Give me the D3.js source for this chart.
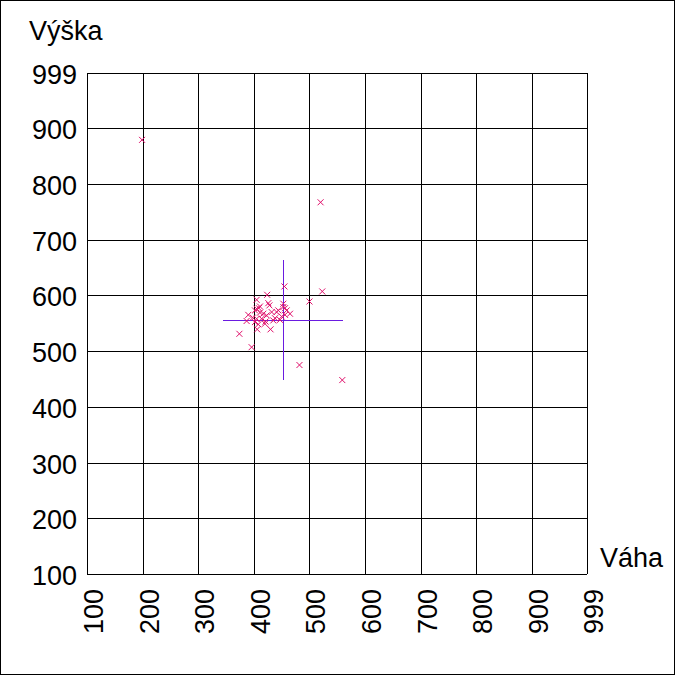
<!DOCTYPE html>
<html><head><meta charset="utf-8">
<script src="https://cdn.jsdelivr.net/npm/d3@7"></script>
<style>html,body{margin:0;padding:0;background:#fff}svg{display:block}text{font-family:"Liberation Sans",Arial,sans-serif}</style>
</head><body>
<svg id="c" width="676" height="676"></svg>
<script>
const xTicks = [100,200,300,400,500,600,700,800,900,999];
const yTicks = [100,200,300,400,500,600,700,800,900,999];
const xTitle = "Váha";
const yTitle = "Výška";
// data points (weight, height)
const weights = [199,520,455,523,500,482,559,396,374,424,405,430,406,390,387,428,453,465,417,405,402,441,447,450,414,423,432,402,411,435,459,420,408,453,409,405,444,456,456,438,421,411,426,398];
const heights = [879,767,616,607,589,475,448,507,531,601,592,539,539,565,554,582,585,567,567,576,552,570,556,562,558,564,570,573,580,555,573,549,548,579,577,558,573,577,565,559,553,569,586,560];
// cross: centre and half-extent
const crossCenter = [452,556];
const crossHalf = [108,108];

const svg = d3.select("#c");
const x = d3.scaleLinear().domain([100,999]).range([87,587]);
const y = d3.scaleLinear().domain([100,999]).range([574,73]);

svg.append("rect").attr("x",0.5).attr("y",0.5).attr("width",674).attr("height",674)
  .attr("fill","#fff").attr("stroke","#000");

const grid = svg.append("g").attr("shape-rendering","crispEdges").attr("stroke","#000");
grid.selectAll("line.v").data(xTicks).enter().append("line")
  .attr("x1",d=>Math.round(x(d))+0.5).attr("x2",d=>Math.round(x(d))+0.5)
  .attr("y1",y(999)).attr("y2",y(100));
grid.selectAll("line.h").data(yTicks).enter().append("line")
  .attr("y1",d=>Math.round(y(d))+0.5).attr("y2",d=>Math.round(y(d))+0.5)
  .attr("x1",x(100)).attr("x2",x(999));

const fs = 27;
svg.append("g").selectAll("text").data(yTicks).enter().append("text")
  .attr("x",77).attr("y",d=>y(d)+11).attr("text-anchor","end")
  .attr("font-size",fs).text(d=>d);

svg.append("g").selectAll("text").data(xTicks).enter().append("text")
  .attr("transform",d=>`translate(${x(d)+16},589) rotate(-90)`)
  .attr("text-anchor","end").attr("font-size",fs).text(d=>d);

svg.append("text").attr("x",29).attr("y",40).attr("font-size",fs).text(yTitle);
svg.append("text").attr("x",600).attr("y",567).attr("font-size",fs).text(xTitle);

const cc = "#6a1be0";
const cg = svg.append("g").attr("stroke",cc).attr("shape-rendering","crispEdges");
cg.append("line").attr("x1",x(crossCenter[0]-crossHalf[0])).attr("x2",x(crossCenter[0]+crossHalf[0]))
  .attr("y1",Math.round(y(crossCenter[1]))+0.5).attr("y2",Math.round(y(crossCenter[1]))+0.5);
cg.append("line").attr("y1",y(crossCenter[1]+crossHalf[1])).attr("y2",y(crossCenter[1]-crossHalf[1]))
  .attr("x1",Math.round(x(crossCenter[0]))+0.5).attr("x2",Math.round(x(crossCenter[0]))+0.5);

const pts = weights.map((w,i)=>[w,heights[i]]);
const s = 3;
const pg = svg.append("g").attr("stroke","#e0106b").attr("stroke-width",1).attr("fill","none");
pg.selectAll("path").data(pts).enter().append("path")
  .attr("d",d=>{const px=x(d[0]), py=y(d[1]);
    return `M${px-s},${py-s}L${px+s},${py+s}M${px-s},${py+s}L${px+s},${py-s}`;});
</script>
</body></html>
